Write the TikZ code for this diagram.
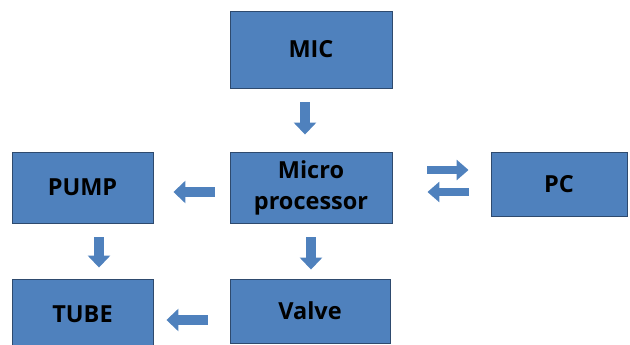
\documentclass[tikz,border=0pt]{standalone}
\usepackage{fontspec}
\setmainfont{Open Sans}
\usetikzlibrary{arrows.meta,calc}
\definecolor{boxblue}{HTML}{4F81BD}
\definecolor{boxedge}{HTML}{2E4A6E}
\tikzset{
  blk/.style={draw=boxedge, line width=0.9pt, fill=boxblue, inner sep=0pt,
    font=\fontsize{23.5}{31}\selectfont\bfseries, text=black, align=center},
  barrow/.style={draw=boxblue, line width=10pt,
    -{Triangle[width=22pt,length=12pt]}},
  sarrow/.style={draw=boxblue, line width=8.5pt,
    -{Triangle[width=20pt,length=12pt]}}
}
\begin{document}
\begin{tikzpicture}[x=1pt,y=-1pt]
\clip (0,0) rectangle (630,345);
\useasboundingbox (0,0) rectangle (630,345);
\node[blk, minimum width=162pt, minimum height=77pt] (mic) at (311,49.5) {MIC};
\node[blk, minimum width=162pt, minimum height=71pt] (micro) at (311,187.5) {Micro\\processor};
\node[blk, minimum width=136pt, minimum height=64pt] (pc) at (559,184) {PC};
\node[blk, minimum width=141pt, minimum height=71pt] (pump) at (82.5,187.5) {PUMP};
\node[blk, minimum width=141pt, minimum height=71pt] (tube) at (82.5,314.5) {TUBE};
\node[blk, minimum width=160pt, minimum height=64pt] (valve) at (310,311) {Valve};
% coordinates for arrow ends
\coordinate (a1s) at ($(mic.south)+(-6,14)$);
\coordinate (a1e) at ($(micro.north)+(-6,-17)$);
\coordinate (a2s) at ($(micro.west)+(-15,4.5)$);
\coordinate (a2e) at ($(pump.east)+(20,4.5)$);
\coordinate (a3s) at ($(micro.east)+(35,-17.5)$);
\coordinate (a3e) at ($(pc.west)+(-22,-14)$);
\coordinate (a4s) at ($(pc.west)+(-22,8)$);
\coordinate (a4e) at ($(micro.east)+(35,4.5)$);
\coordinate (a5s) at ($(micro.south)+(0,14)$);
\coordinate (a5e) at ($(valve.north)+(1,-9)$);
\coordinate (a6s) at ($(pump.south)+(16.5,14)$);
\coordinate (a6e) at ($(tube.north)+(16.5,-11)$);
\coordinate (a7s) at ($(valve.west)+(-22,9)$);
\coordinate (a7e) at ($(tube.east)+(13,5.5)$);
\draw[barrow] (a1s) -- (a1e);
\draw[barrow] (a2s) -- (a2e);
\draw[sarrow] (a3s) -- (a3e);
\draw[sarrow] (a4s) -- (a4e);
\draw[barrow] (a5s) -- (a5e);
\draw[barrow] (a6s) -- (a6e);
\draw[barrow] (a7s) -- (a7e);
\end{tikzpicture}
\end{document}
